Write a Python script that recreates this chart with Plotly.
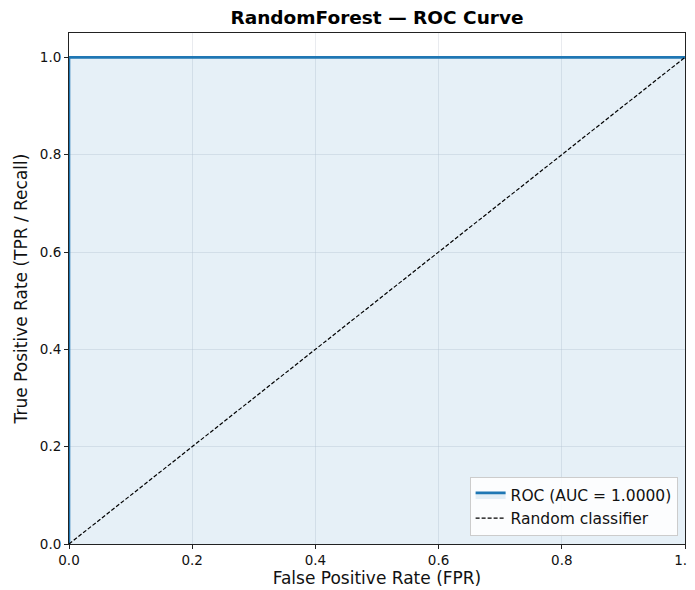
import plotly.graph_objects as go

roc_fpr = [0.0, 0.0, 1.0]
roc_tpr = [0.0, 1.0, 1.0]
rand_x = [0.0, 1.0]
rand_y = [0.0, 1.0]
auc = 1.0
tick_vals = [0.0, 0.2, 0.4, 0.6, 0.8, 1.0]

fig = go.Figure()
fig.add_trace(go.Scatter(x=roc_fpr, y=roc_tpr, mode="lines", fill="tozeroy",
                         fillcolor="rgba(31,119,180,0.11)",
                         line=dict(color="#1f77b4", width=2.6),
                         name=f"ROC (AUC = {auc:.4f})"))
fig.add_trace(go.Scatter(x=rand_x, y=rand_y, mode="lines",
                         line=dict(color="black", width=1.2, dash="4px,2px"),
                         name="Random classifier"))

axis_common = dict(showline=True, linecolor="#222", linewidth=1, mirror=True,
                   ticks="outside", ticklen=4, tickcolor="#222", automargin=False,
                   showgrid=True, gridcolor="rgba(200,205,215,0.4)", gridwidth=1,
                   zeroline=False, tickfont=dict(size=13.5, color="#111"),
                   tickvals=tick_vals, tickformat=".1f")
fig.update_xaxes(range=[0, 1], title=dict(text="False Positive Rate (FPR)",
                 font=dict(size=17, color="#111"), standoff=3), **axis_common)
fig.update_yaxes(range=[0, 1.05], title=dict(text="True Positive Rate (TPR / Recall)",
                 font=dict(size=17, color="#111"), standoff=7), **axis_common)

fig.update_layout(
    width=695, height=582,
    margin=dict(l=61, r=18, t=25, b=46),
    paper_bgcolor="white", plot_bgcolor="white",
    font=dict(family="DejaVu Sans", color="#111"),
    title=dict(text="<b>RandomForest — ROC Curve</b>", x=369 / 695, xanchor="center",
               y=0.983, yanchor="middle", font=dict(size=18.5, color="black")),
    legend=dict(x=0.988, y=0.015, xanchor="right", yanchor="bottom",
                bgcolor="rgba(255,255,255,0.85)", bordercolor="#cccccc", borderwidth=1,
                font=dict(size=15.5, color="#111"), tracegroupgap=0),
    showlegend=True,
)

fig.write_html("out.html")
